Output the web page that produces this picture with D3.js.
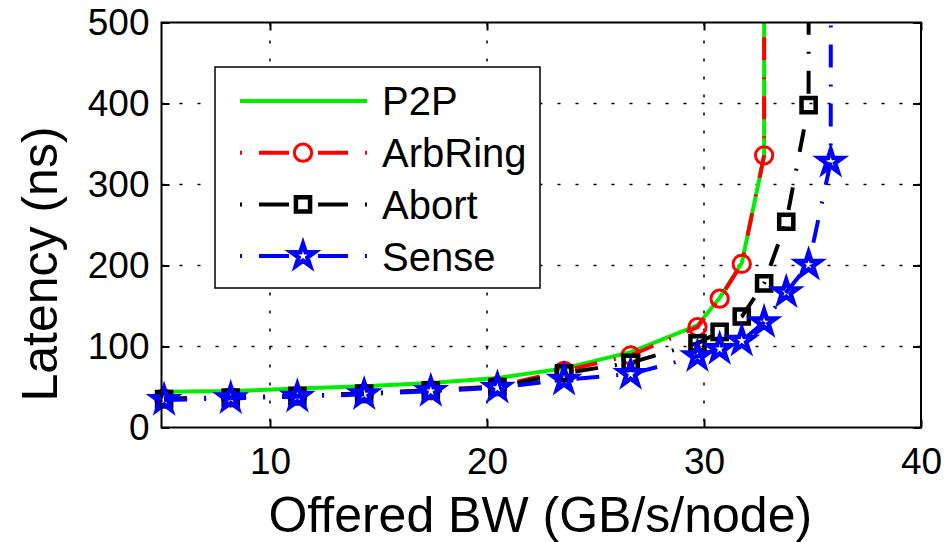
<!DOCTYPE html>
<html>
<head>
<meta charset="utf-8">
<script src="https://cdn.jsdelivr.net/npm/d3@7"></script>
<style>
  body { margin: 0; background: #fff; }
  text { font-family: "Liberation Sans", Arial, sans-serif; fill: #000; }
</style>
</head>
<body>
<div id="chart"></div>
<script>
// offered bandwidth (GB/s/node) and latency (ns) per series
const p2pX = [5.12, 8.19, 11.26, 14.34, 17.41, 20.48, 23.55, 26.62, 29.70, 30.72, 31.74, 32.77, 32.80];
const p2pY = [44, 45, 48, 51, 55, 61, 73, 93, 126, 160, 203, 335, 2000];
const arbX = [5.12, 8.19, 11.26, 14.34, 17.41, 20.48, 23.55, 26.62, 29.70, 30.72, 31.74, 32.77, 32.80];
const arbY = [36, 37, 39, 42, 46, 51, 70, 89, 124, 159, 202, 336, 2000];
const abortX = [5.12, 8.19, 11.26, 14.34, 17.41, 20.48, 23.55, 26.62, 29.70, 30.72, 31.74, 32.77, 33.79, 34.82, 34.85];
const abortY = [35, 37, 39, 42, 46, 50, 67, 80, 104, 118, 137, 178, 254, 398, 2000];
const senseX = [5.12, 8.19, 11.26, 14.34, 17.41, 20.48, 23.55, 26.62, 29.70, 30.72, 31.74, 32.77, 33.79, 34.82, 35.84, 35.87];
const senseY = [34, 36, 38, 41, 45, 49, 59, 66, 88, 97, 107, 130, 167, 201, 328, 2000];

const xTicks = [10, 20, 30, 40];
const yTicks = [0, 100, 200, 300, 400, 500];

const series = [
  {name: "P2P", xs: p2pX, ys: p2pY, color: "#00ee00", dash: null, marker: null},
  {name: "ArbRing", xs: arbX, ys: arbY, color: "#ff0000", dash: "23,17,2,17", marker: "circle"},
  {name: "Abort", xs: abortX, ys: abortY, color: "#000000", dash: "23,17,2,17", marker: "square"},
  {name: "Sense", xs: senseX, ys: senseY, color: "#0000ff", dash: "23,17,2,17", marker: "star"}
];

const W = 946, H = 542;
const margin = {top: 22.5, right: 25, bottom: 114.5, left: 161.5};
const width = W - margin.left - margin.right;
const height = H - margin.top - margin.bottom;

const svg = d3.select("#chart").append("svg")
  .attr("width", W).attr("height", H);

const g = svg.append("g")
  .attr("transform", `translate(${margin.left},${margin.top})`);

const x = d3.scaleLinear().domain([5, 40]).range([0, width]);
const y = d3.scaleLinear().domain([0, 500]).range([height, 0]);

svg.append("defs").append("clipPath").attr("id", "plotClip")
  .append("rect").attr("width", width).attr("height", height);

// dotted grid
g.append("g").selectAll("line").data(xTicks.filter(d => d < 40)).enter().append("line")
  .attr("x1", d => x(d)).attr("x2", d => x(d))
  .attr("y1", 0).attr("y2", height)
  .style("stroke", "#000").style("stroke-width", 1.5).style("stroke-dasharray", "3,15");
g.append("g").selectAll("line").data(yTicks.filter(d => d > 0 && d < 500)).enter().append("line")
  .attr("x1", 0).attr("x2", width)
  .attr("y1", d => y(d)).attr("y2", d => y(d))
  .style("stroke", "#000").style("stroke-width", 1.5).style("stroke-dasharray", "3,15");

// axes with inward ticks, labels
const xAxis = g.append("g").attr("transform", `translate(0,${height})`)
  .call(d3.axisBottom(x).tickValues(xTicks).tickSize(-8).tickPadding(20).tickFormat(d3.format("d")));
const yAxis = g.append("g")
  .call(d3.axisLeft(y).tickValues(yTicks).tickSize(-8).tickPadding(12).tickFormat(d3.format("d")));
g.append("g").call(d3.axisTop(x).tickValues(xTicks).tickSize(-8).tickFormat(""));
g.append("g").attr("transform", `translate(${width},0)`)
  .call(d3.axisRight(y).tickValues(yTicks).tickSize(-8).tickFormat(""));

g.selectAll(".domain").remove();
g.selectAll(".tick line").style("stroke", "#000").style("stroke-width", 2);
xAxis.selectAll("text").style("font-size", "37px").attr("dy", "0.71em");
yAxis.selectAll("text").style("font-size", "37px");

// series
const line = d3.line().x(d => x(d[0])).y(d => y(d[1]));
const symbols = {circle: d3.symbolCircle, square: d3.symbolSquare, star: d3.symbolStar};
const sizes = {circle: 235, square: 200, star: 165};

function drawMarker(sel, s) {
  sel.attr("d", d3.symbol().type(symbols[s.marker]).size(sizes[s.marker]))
    .style("fill", "none")
    .style("stroke", s.color)
    .style("stroke-width", s.marker === "circle" ? 3 : 4.5)
    .style("stroke-linejoin", "miter");
}

series.forEach(s => {
  const pts = s.xs.map((v, i) => [v, s.ys[i]]);
  g.append("path")
    .datum(pts)
    .attr("clip-path", "url(#plotClip)")
    .attr("d", line)
    .style("fill", "none")
    .style("stroke", s.color)
    .style("stroke-width", 4)
    .style("stroke-dasharray", s.dash);
  if (s.marker) {
    g.append("g").selectAll("path")
      .data(pts.filter(p => p[1] <= 500))
      .enter().append("path")
      .attr("transform", d => `translate(${x(d[0])},${y(d[1])})`)
      .call(drawMarker, s);
  }
});

// frame
g.append("rect").attr("width", width).attr("height", height)
  .style("fill", "none").style("stroke", "#000").style("stroke-width", 2);

// legend
const legend = svg.append("g").attr("transform", "translate(215,67)");
legend.append("rect").attr("width", 325).attr("height", 221)
  .style("fill", "#fff").style("stroke", "#000").style("stroke-width", 1.5);
series.forEach((s, i) => {
  const row = legend.append("g").attr("transform", `translate(0,${34 + i * 51.7})`);
  row.append("line").attr("x1", 25).attr("x2", 152).attr("y1", 0).attr("y2", 0)
    .style("stroke", s.color).style("stroke-width", 4)
    .style("stroke-dasharray", s.dash ? "2,17,30,100" : null);
  if (s.marker) {
    row.append("line").attr("x1", 152).attr("x2", 25).attr("y1", 0).attr("y2", 0)
      .style("stroke", s.color).style("stroke-width", 4)
      .style("stroke-dasharray", "2,17,30,100");
    row.append("path").attr("transform", "translate(88,0)").call(drawMarker, s);
  }
  row.append("text").attr("x", 167).attr("dy", "0.36em")
    .style("font-size", "40px").text(s.name);
});

// axis titles
svg.append("text")
  .attr("x", margin.left + width / 2 - 1).attr("y", 532)
  .attr("text-anchor", "middle").style("font-size", "50px")
  .text("Offered BW (GB/s/node)");
svg.append("text")
  .attr("transform", "translate(57,264) rotate(-90)")
  .attr("text-anchor", "middle").style("font-size", "50px")
  .text("Latency (ns)");
</script>
</body>
</html>
